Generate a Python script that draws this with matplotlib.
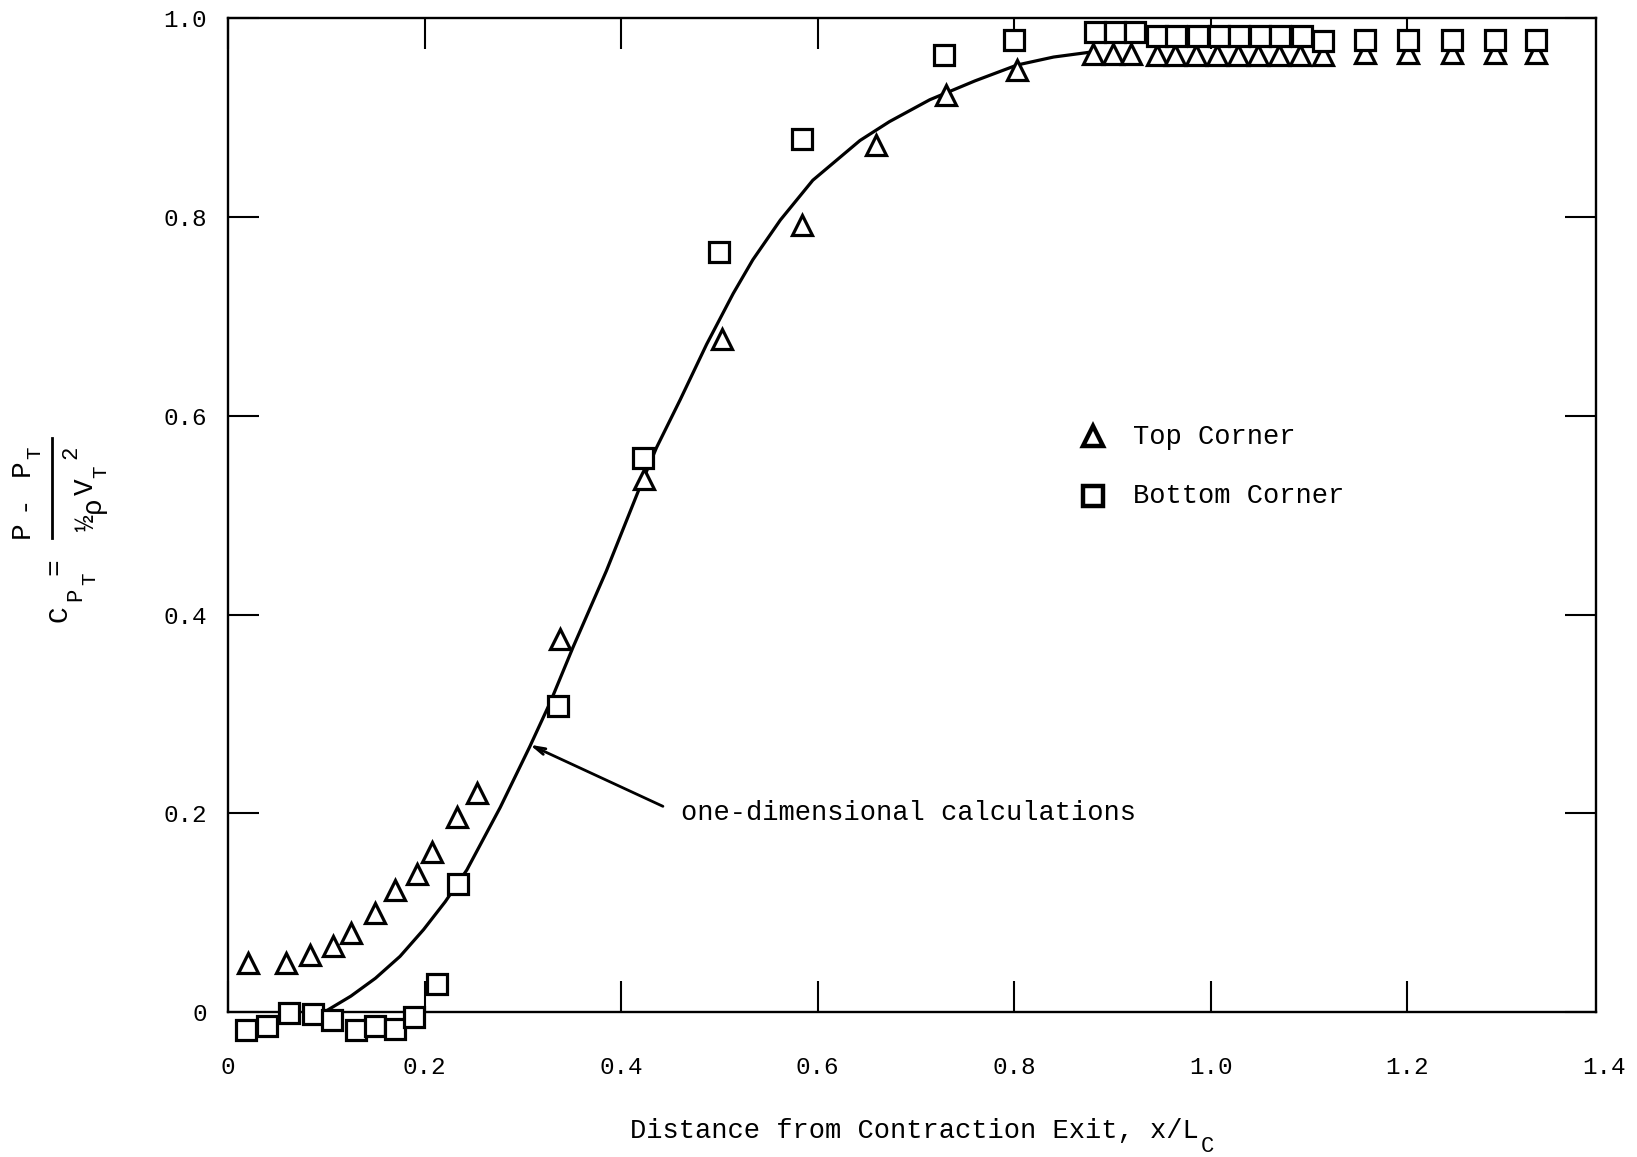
import matplotlib
matplotlib.use("Agg")
import matplotlib.pyplot as plt
from matplotlib.lines import Line2D

plt.rcParams["font.family"] = ["Liberation Mono", "DejaVu Sans Mono"]

# Pressure coefficient along the test section, top corner taps
top_x = [0.020, 0.059, 0.083, 0.107, 0.125, 0.150, 0.170, 0.192, 0.208, 0.233,
         0.253, 0.338, 0.423, 0.503, 0.584, 0.659, 0.731, 0.803, 0.880, 0.900,
         0.919, 0.945, 0.964, 0.985, 1.006, 1.028, 1.048, 1.069, 1.091, 1.114,
         1.157, 1.201, 1.245, 1.289, 1.331]
top_cp = [0.049, 0.049, 0.057, 0.066, 0.080, 0.100, 0.123, 0.139, 0.161, 0.196,
          0.220, 0.375, 0.536, 0.677, 0.792, 0.872, 0.923, 0.948, 0.964, 0.964,
          0.964, 0.963, 0.963, 0.963, 0.963, 0.963, 0.963, 0.963, 0.963, 0.963,
          0.965, 0.965, 0.965, 0.965, 0.965]

# Bottom corner taps
bot_x = [0.018, 0.040, 0.062, 0.086, 0.106, 0.130, 0.150, 0.170, 0.189, 0.213,
         0.234, 0.336, 0.4225, 0.500, 0.584, 0.729, 0.800, 0.882, 0.902, 0.923,
         0.945, 0.965, 0.987, 1.008, 1.029, 1.050, 1.070, 1.093, 1.114, 1.157,
         1.201, 1.245, 1.289, 1.331]
bot_cp = [-0.018, -0.014, -0.001, -0.002, -0.008, -0.018, -0.014, -0.017, -0.005, 0.028,
          0.129, 0.308, 0.558, 0.765, 0.879, 0.963, 0.978, 0.986, 0.986, 0.986,
          0.982, 0.982, 0.982, 0.982, 0.982, 0.982, 0.982, 0.982, 0.977, 0.978,
          0.978, 0.978, 0.978, 0.978]

# One-dimensional calculation
calc_x = [0.098, 0.125, 0.150, 0.175, 0.199, 0.221, 0.243, 0.277, 0.307, 0.328,
          0.351, 0.385, 0.419, 0.436, 0.460, 0.487, 0.514, 0.534, 0.562, 0.595,
          0.643, 0.673, 0.714, 0.760, 0.803, 0.840, 0.878]
calc_cp = [0.000, 0.016, 0.034, 0.056, 0.083, 0.111, 0.143, 0.206, 0.267, 0.312,
           0.367, 0.444, 0.528, 0.568, 0.616, 0.672, 0.723, 0.757, 0.797, 0.837,
           0.877, 0.896, 0.918, 0.937, 0.953, 0.961, 0.966]

x_ticks = [0.0, 0.2, 0.4, 0.6, 0.8, 1.0, 1.2]
x_tick_labels = ["0", "0.2", "0.4", "0.6", "0.8", "1.0", "1.2"]
x_last_tick, x_last_label = 1.4, "1.4"
y_ticks = [0.0, 0.2, 0.4, 0.6, 0.8, 1.0]
y_tick_labels = ["0", "0.2", "0.4", "0.6", "0.8", "1.0"]

W, H = 1637, 1157
fig = plt.figure(figsize=(W / 100, H / 100), dpi=100)
ax = fig.add_axes([0.1393, 0.1253, 0.975 - 0.1393, 0.9842 - 0.1253])
ax.set_xlim(0, 1.392)
ax.set_ylim(0, 1.0)

ax.plot(calc_x, calc_cp, color="black", lw=2.3, zorder=2)
ax.plot(top_x, top_cp, linestyle="none", marker="^", ms=14, mew=2.3,
        mfc="white", mec="black", clip_on=False, zorder=3)
ax.plot(bot_x, bot_cp, linestyle="none", marker="s", ms=14, mew=2.3,
        mfc="white", mec="black", clip_on=False, zorder=4)

for s in ax.spines.values():
    s.set_linewidth(1.7)

ax.set_xticks(x_ticks)
ax.set_xticklabels(x_tick_labels)
ax.set_yticks(y_ticks)
ax.set_yticklabels(y_tick_labels)
ax.tick_params(direction="in", length=22, width=1.5, top=True, right=True,
               labelsize=17.5)
ax.tick_params(axis="x", pad=32)
ax.tick_params(axis="y", pad=15)
ax.annotate(x_last_label, xy=(x_last_tick, 0), xycoords=ax.get_xaxis_transform(),
            xytext=(0, -32), textcoords="offset points",
            ha="center", va="top", fontsize=17.5, annotation_clip=False)

# legend drawn by hand
ax.plot([0.880], [0.580], marker="^", ms=15, mew=3.2, mfc="white", mec="black")
ax.text(0.921, 0.572, "Top Corner", fontsize=19.5, va="baseline")
ax.plot([0.880], [0.519], marker="s", ms=14, mew=3.2, mfc="white", mec="black")
ax.text(0.921, 0.512, "Bottom Corner", fontsize=19.5, va="baseline")

ax.annotate("", xy=(0.307, 0.269), xytext=(0.4425, 0.207),
            arrowprops=dict(arrowstyle="->,head_length=0.8,head_width=0.22",
                            color="black", lw=2, shrinkA=0, shrinkB=0))
ax.text(0.461, 0.193, "one-dimensional calculations", fontsize=19.5,
        va="baseline")

# x-axis title with lowered subscript
xlab = fig.text(0.385, 0.0164, "Distance from Contraction Exit, x/L",
                fontsize=19.5, ha="left", va="baseline")
ax.annotate("C", xy=(1, 0.0040), xycoords=(xlab, "figure fraction"),
            xytext=(1, 0), textcoords="offset points", ha="left",
            va="baseline", fontsize=16, annotation_clip=False)


# y-axis title: C_PT = (P - P_T) / (1/2 rho V_T^2), set piece by piece
def ylab_piece(s, px, py, size):
    fig.text(px / W, 1 - py / H, s, fontsize=size, rotation=90,
             ha="center", va="center")


ylab_piece("C", 59, 614, 20)
ylab_piece("P", 76, 594, 16)
ylab_piece("T", 90, 579, 15)
ylab_piece("=", 55, 567, 20)
ylab_piece("P", 22, 530, 20)
ylab_piece("-", 23, 503, 20)
ylab_piece("P", 22, 468, 20)
ylab_piece("T", 35, 453, 15)
ylab_piece("½", 87, 523, 20)
ylab_piece("ρ", 93, 505, 20)
ylab_piece("V", 86, 487, 20)
ylab_piece("T", 101, 472, 15)
ylab_piece("2", 71, 452, 16)
fig.add_artist(Line2D([51.7 / W, 51.7 / W], [1 - 538 / H, 1 - 438 / H],
                      color="black", lw=2, transform=fig.transFigure))

fig.savefig("out.png", dpi=100, facecolor="white")
